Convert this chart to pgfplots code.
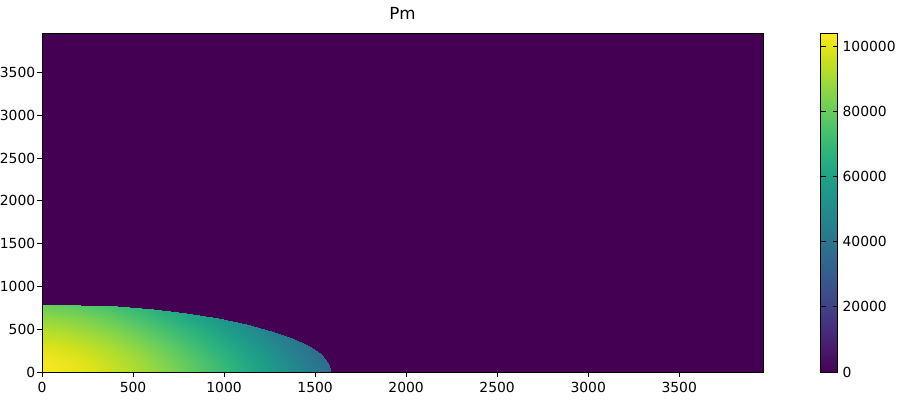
\documentclass[border=0pt]{standalone}
\usepackage{pgfplots}
\pgfplotsset{compat=1.18}
\usepackage{fontspec}
\setmainfont{DejaVu Sans}
\pgfplotsset{/pgf/number format/1000 sep={}, /pgf/number format/assume math mode=true}
\begin{document}
\begin{tikzpicture}
\path[use as bounding box] (-30.24pt,-33.12pt) rectangle (623.52pt,267.84pt);
\begin{axis}[
  at={(0,0)}, anchor=south west,
  scale only axis, width=519.1pt, height=244.1pt,
  xmin=0, xmax=3960, ymin=0, ymax=3960,
  xtick={0,500,...,3500}, ytick={0,500,...,3500},
  tick align=outside, tick pos=left, major tick length=3.5pt,
  tick style={black, line width=0.6pt},
  axis line style={line width=0.6pt},
  ticklabel style={font=\fontsize{10}{12}\selectfont},
  yticklabel style={inner xsep=1.2pt},
  title={Pm}, title style={font=\fontsize{12}{14}\selectfont},
  colormap name=viridis,
  point meta min=0, point meta max=104000,
  colorbar,
  colorbar style={
    at={(parent axis.north east)}, anchor=north west, xshift=33.1pt,
    width=12.2pt,
    ytick={0,20000,40000,60000,80000,100000},
    scaled y ticks=false,
    yticklabel style={/pgf/number format/fixed, /pgf/number format/1000 sep={}, /pgf/number format/assume math mode=true, font=\fontsize{10}{12}\selectfont},
    major tick length=3.5pt,
    tick style={black, line width=0.6pt},
    axis line style={line width=0.6pt},
  },
  axis on top,
]
\addplot[surf, shader=flat, point meta=explicit, mesh/cols=2] table[meta index=2] {
0 0 0
3960 0 0
0 3960 0
3960 3960 0
};
\addplot[surf, shader=interp, point meta=explicit, mesh/cols=6] table[meta index=2] {
0 0 104000
317 0 97950
634 0 86900
951 0 72580
1268 0 55630
1585 0 36400
0 0 104000
314 21 97930
629 42 86830
943 62 72460
1257 83 55440
1571 104 36140
0 0 104000
306 41 97980
612 82 86970
919 123 72710
1225 165 55830
1531 206 36680
0 0 104000
293 61 98120
586 122 87380
879 183 73470
1172 243 56990
1464 304 38310
0 0 104000
275 80 98370
549 159 88080
824 239 74750
1098 318 58970
1373 398 41060
0 0 104000
252 97 98710
503 194 89040
755 290 76520
1006 387 61690
1258 484 44870
0 0 104000
224 112 99130
448 225 90230
673 337 78710
897 450 65060
1121 562 49580
0 0 104000
193 126 99620
386 252 91600
579 378 81220
772 505 68930
965 631 54990
0 0 104000
159 138 100140
317 275 93080
476 413 83930
634 551 73100
793 689 60820
0 0 104000
121 147 100670
243 294 94580
364 441 86690
485 588 77350
607 735 66760
0 0 104000
82 154 101170
164 307 96000
246 461 89310
328 614 81380
410 768 72390
0 0 104000
41 158 101600
83 315 97220
124 473 91540
166 631 84820
207 788 77200
0 0 104000
0 159 101860
0 318 97950
0 477 92880
0 636 86890
0 795 80080
};
\end{axis}
\end{tikzpicture}
\end{document}
